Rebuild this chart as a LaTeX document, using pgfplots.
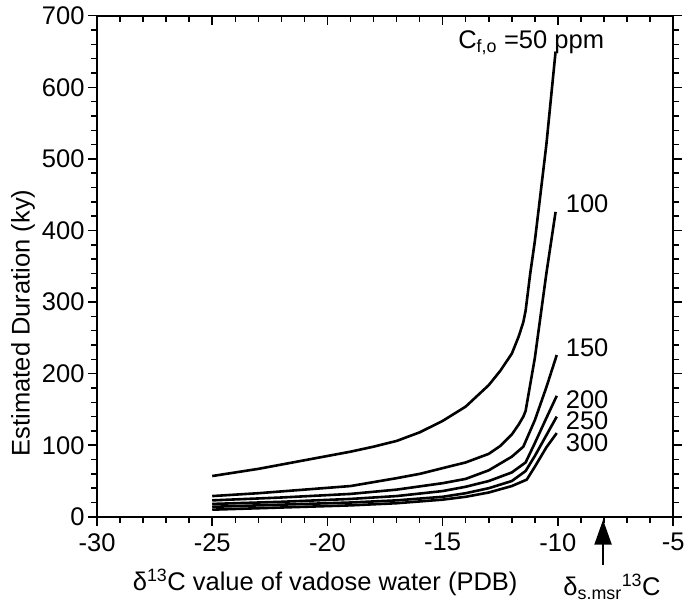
\documentclass[border=0pt]{standalone}
\usepackage{fontspec}
\setmainfont{Liberation Sans}
\usepackage{pgfplots}
\usetikzlibrary{arrows.meta}
\pgfplotsset{compat=1.18}
\begin{document}
\begin{tikzpicture}
\pgfplotsset{
  base/.style={
    width=576pt, height=501pt, scale only axis,
    xmin=-30, xmax=-5, ymin=0, ymax=700,
    xtick={-30,-25,-20,-15,-10,-5},
    ytick={0,100,200,300,400,500,600,700},
    minor x tick num=4, minor y tick num=4,
    major tick length=9pt, minor tick length=6pt,
    every tick/.style={black, line width=1.5pt},
    axis line style={line width=2.2pt},
  },
  crv/.style={black, solid, line width=2.6pt, line join=round},
}
\begin{axis}[
  base,
  xticklabels={-30,-25,-20,-15,-10,-5},
  yticklabels={0,100,200,300,400,500,600,700},
  tick align=outside,
  xtick pos=bottom, ytick pos=both,
  tick label style={font=\fontsize{25.5}{29}\selectfont},
  xticklabel style={yshift=-4pt},
  clip=false,
]
% C = 50 ppm
\addplot[crv] coordinates {(-25,57) (-24,62) (-23,67) (-22,73) (-21,79) (-20,85) (-19,91) (-18,98) (-17,106) (-16,118) (-15,134) (-14,154) (-13,184) (-12.5,204) (-12,228) (-11.7,252) (-11.5,272) (-11.4,288) (-11.2,340) (-11,385) (-10.5,520) (-10.1,650)};
% 100
\addplot[crv] coordinates {(-25,29) (-23,33) (-21,38) (-19,43) (-17,54) (-16,60) (-15,68) (-14,76) (-13,88) (-12.5,99) (-12,115) (-11.7,129) (-11.5,140) (-11.4,148) (-11,222) (-10.5,340) (-10.1,426)};
% 150
\addplot[crv] coordinates {(-25,23) (-22,27) (-19,32) (-17,38) (-15,47) (-14,53) (-13,65) (-12,84) (-11.5,98) (-11,135) (-10.5,181) (-10.05,226)};
% 200
\addplot[crv] coordinates {(-25,18) (-22,21) (-19,25) (-17,29) (-15,36) (-14,42) (-13,50) (-12,62) (-11.4,76) (-11,103) (-10.5,138) (-10.05,169)};
% 250
\addplot[crv] coordinates {(-25,14) (-22,17) (-19,20) (-17,23) (-15,28) (-14,33) (-13,40) (-12,50) (-11.4,64) (-11,85) (-10.5,114) (-10.05,140)};
% 300
\addplot[crv] coordinates {(-25,10) (-22,13) (-19,16) (-17,19) (-15,24) (-14,28) (-13,34) (-12,43) (-11.35,52) (-11,70) (-10.5,97) (-10.05,117)};

\node[font=\fontsize{25.5}{29}\selectfont] at (axis cs:-11.16,662) {C\textsubscript{f,o} =50 ppm};
\node[font=\fontsize{25.5}{29}\selectfont, inner sep=0pt] at (axis cs:-8.73,438) {100};
\node[font=\fontsize{25.5}{29}\selectfont, inner sep=0pt] at (axis cs:-8.73,236) {150};
\node[font=\fontsize{25.5}{29}\selectfont, inner sep=0pt] at (axis cs:-8.73,164) {200};
\node[font=\fontsize{25.5}{29}\selectfont, inner sep=0pt] at (axis cs:-8.73,134) {250};
\node[font=\fontsize{25.5}{29}\selectfont, inner sep=0pt] at (axis cs:-8.73,104) {300};

\node[font=\fontsize{25.5}{29}\selectfont, rotate=90] at (axis cs:-33.21,271) {Estimated Duration (ky)};

\draw[line width=2.2pt, -{Triangle[length=25pt,width=17pt]}] (axis cs:-8.04,-67) -- (axis cs:-8.04,-4);
\node[font=\fontsize{25.5}{29}\selectfont] at (axis cs:-7.65,-98) {δ\textsubscript{s.msr}\textsuperscript{13}C};
\node[font=\fontsize{25.5}{29}\selectfont] at (axis cs:-20.1,-91) {δ\textsuperscript{13}C value of vadose water (PDB)};

\coordinate (BL) at (axis cs:-34.21,-118.7);
\coordinate (TR) at (axis cs:-4.18,722);
\end{axis}
\begin{axis}[
  base,
  xticklabels={}, ytick=\empty,
  tick align=inside,
  xtick pos=top,
  axis line style={draw=none},
]
\end{axis}
\pgfresetboundingbox
\useasboundingbox (BL) rectangle (TR);
\end{tikzpicture}
\end{document}
